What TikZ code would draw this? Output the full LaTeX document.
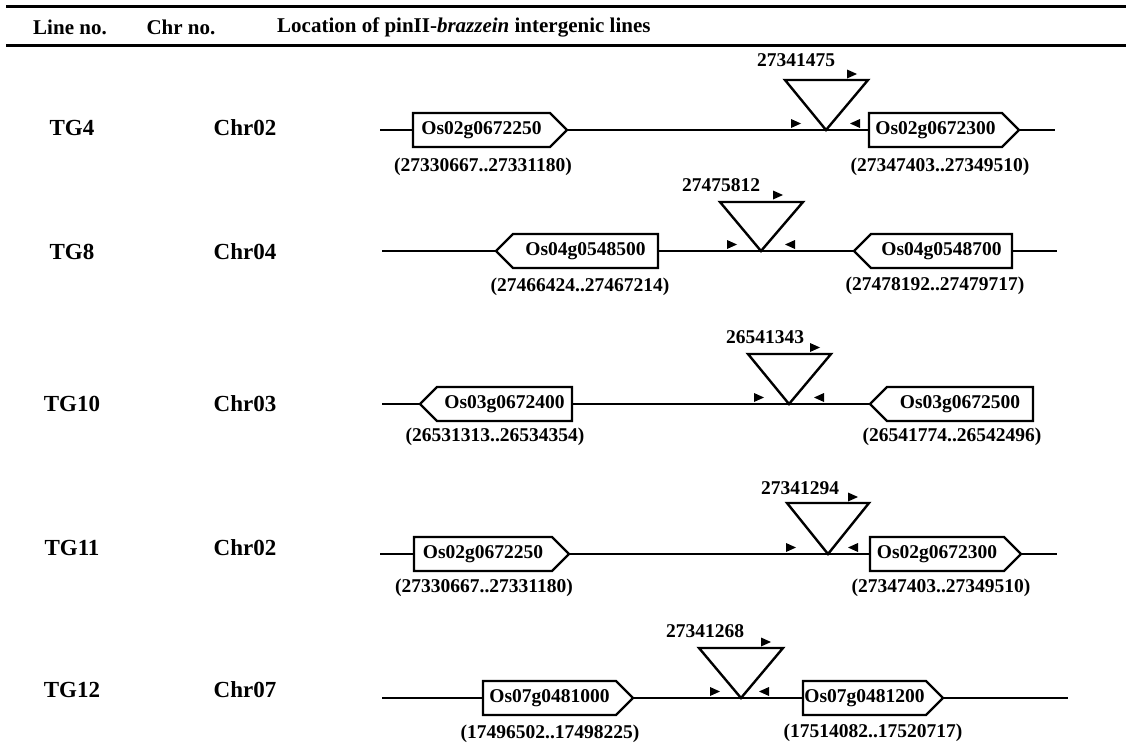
\documentclass[tikz,border=0pt]{standalone}
\usepackage{fontspec}
\setmainfont{Liberation Serif}
\tikzset{
  hrule/.style={line width=3pt},
  chrline/.style={line width=2.4pt},
  gene/.style={draw, line width=2.4pt, fill=white, line join=miter},
  genetxt/.style={font=\fontsize{19.5}{22}\selectfont\bfseries, inner sep=0pt},
  coordtxt/.style={font=\fontsize{19.5}{22}\selectfont\bfseries, inner sep=0pt},
  postxt/.style={font=\fontsize{19.5}{22}\selectfont\bfseries, inner sep=0pt},
  rowlbl/.style={font=\fontsize{23}{26}\selectfont\bfseries, inner sep=0pt},
  hdr/.style={font=\fontsize{21}{25}\selectfont\bfseries, inner sep=0pt},
  ins/.style={draw, line width=2.4pt, line join=miter},
}
\newcommand\geneR[5]{%
  \draw[gene] (#2,#4-17) -- (#3,#4-17) -- (#3+17,#4) -- (#3,#4+17) -- (#2,#4+17) -- cycle;
  \node[genetxt] (#1) at ({(#2+#3)/2},#4) {#5};}
\newcommand\geneL[5]{%
  \draw[gene] (#3,#4-17) -- (#2,#4-17) -- (#2-17,#4) -- (#2,#4+17) -- (#3,#4+17) -- cycle;
  \node[genetxt] (#1) at ({(#2+#3)/2},#4) {#5};}
\newcommand\tipR[2]{\fill (#1,#2) -- ++(-10,-4.5) -- ++(0,9) -- cycle;}
\newcommand\tipL[2]{\fill (#1,#2) -- ++(10,-4.5) -- ++(0,9) -- cycle;}
\newcommand\insmark[6]{% name, xl, xr, xapex, ytop, yline
  \coordinate (#1l) at (#2,#5);
  \coordinate (#1r) at (#3,#5);
  \coordinate (#1a) at (#4,#6);
  \draw[ins] (#1l) -- (#1r) -- (#1a) -- cycle;}
\begin{document}
\begin{tikzpicture}[x=1pt,y=-1pt]
\useasboundingbox (0,0) rectangle (1128,744);
% header
\coordinate (h1l) at (6,6.7); \coordinate (h1r) at (1126,6.7);
\coordinate (h2l) at (6,45); \coordinate (h2r) at (1126,45);
\draw[hrule] (h1l) -- (h1r);
\draw[hrule] (h2l) -- (h2r);
\node[hdr] (hline) at (70,27) {Line no.};
\node[hdr] (hchr) at (181,27) {Chr no.};
\node[hdr, anchor=west] (hloc) at (277,27) {Location of pinII-\textit{brazzein} intergenic lines};

% row labels
\node[rowlbl] (l4) at (72,128) {TG4};   \node[rowlbl] (c4) at (245,128) {Chr02};
\node[rowlbl] (l8) at (72,252) {TG8};   \node[rowlbl] (c8) at (245,252) {Chr04};
\node[rowlbl] (l10) at (72,404) {TG10}; \node[rowlbl] (c10) at (245,404) {Chr03};
\node[rowlbl] (l11) at (72,548) {TG11}; \node[rowlbl] (c11) at (245,548) {Chr02};
\node[rowlbl] (l12) at (72,690) {TG12}; \node[rowlbl] (c12) at (245,690) {Chr07};

% ---- TG4 ----
\coordinate (s4) at (380,130); \coordinate (e4) at (1055,130);
\draw[chrline] (s4) -- (e4);
\geneR{g4a}{413}{550}{130}{Os02g0672250}
\geneR{g4b}{869}{1002}{130}{Os02g0672300}
\insmark{t4}{785}{868}{826}{80}{130}
\node[postxt] (p4) at (796,60) {27341475};
\tipR{857}{74} \tipR{801}{123.5} \tipL{850}{123.5}
\node[coordtxt] (k4a) at (483,167) {(27330667..27331180)};
\node[coordtxt] (k4b) at (940,167) {(27347403..27349510)};

% ---- TG8 ----
\coordinate (s8) at (382,251); \coordinate (e8) at (1057,251);
\draw[chrline] (s8) -- (e8);
\geneL{g8a}{513}{658}{251}{Os04g0548500}
\geneL{g8b}{871}{1012}{251}{Os04g0548700}
\insmark{t8}{720}{803}{761}{202}{251}
\node[postxt] (p8) at (721,185) {27475812};
\tipR{783}{195} \tipR{737}{244.5} \tipL{785}{244.5}
\node[coordtxt] (k8a) at (580,287) {(27466424..27467214)};
\node[coordtxt] (k8b) at (935,286) {(27478192..27479717)};

% ---- TG10 ----
\coordinate (s10) at (382,404); \coordinate (e10) at (870,404);
\draw[chrline] (s10) -- (e10);
\geneL{g10a}{437}{572}{404}{Os03g0672400}
\geneL{g10b}{887}{1033}{404}{Os03g0672500}
\insmark{t10}{748}{831}{789}{354}{404}
\node[postxt] (p10) at (765,337) {26541343};
\tipR{820}{347.5} \tipR{764}{397.5} \tipL{814}{397.5}
\node[coordtxt] (k10a) at (495,437) {(26531313..26534354)};
\node[coordtxt] (k10b) at (952,437) {(26541774..26542496)};

% ---- TG11 ----
\coordinate (s11) at (380,554); \coordinate (e11) at (1057,554);
\draw[chrline] (s11) -- (e11);
\geneR{g11a}{414}{552}{554}{Os02g0672250}
\geneR{g11b}{870}{1004}{554}{Os02g0672300}
\insmark{t11}{787}{869}{828}{503}{554}
\node[postxt] (p11) at (800,488) {27341294};
\tipR{858}{497} \tipR{796}{547.5} \tipL{848}{547.5}
\node[coordtxt] (k11a) at (484,588) {(27330667..27331180)};
\node[coordtxt] (k11b) at (941,588) {(27347403..27349510)};

% ---- TG12 ----
\coordinate (s12) at (382,698); \coordinate (e12) at (1068,698);
\draw[chrline] (s12) -- (e12);
\geneR{g12a}{483}{616}{698}{Os07g0481000}
\geneR{g12b}{803}{926}{698}{Os07g0481200}
\insmark{t12}{699}{783}{741}{648}{698}
\node[postxt] (p12) at (705,631) {27341268};
\tipR{771}{642} \tipR{720}{691.5} \tipL{759}{691.5}
\node[coordtxt] (k12a) at (550,734) {(17496502..17498225)};
\node[coordtxt] (k12b) at (873,733) {(17514082..17520717)};
\end{tikzpicture}
\end{document}
